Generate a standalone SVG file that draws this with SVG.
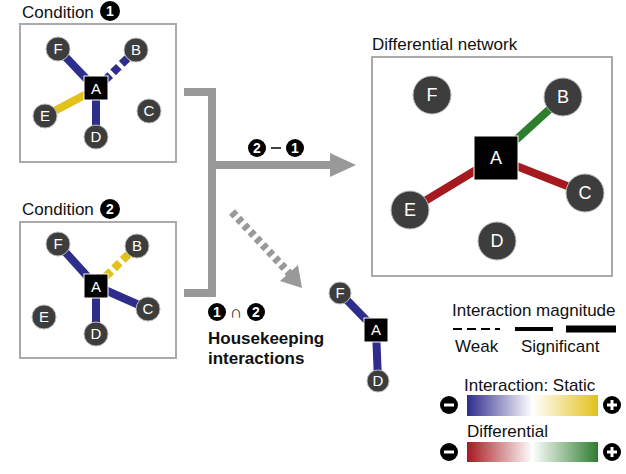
<svg xmlns="http://www.w3.org/2000/svg" width="626" height="474" viewBox="0 0 626 474">
<style>
text{font-family:"Liberation Sans",Arial,sans-serif;fill:#111}
.t{font-size:17px}
.n{fill:#3d3d3d;stroke:#bbb;stroke-width:1}
.nl{fill:#fff;font-size:15px;text-anchor:middle}
.bl{font-size:18px;text-anchor:middle}
.box{fill:#fff;stroke:#aaa;stroke-width:2}
.e{stroke-width:8;fill:none}
.blue{stroke:#2e2d8c}.yel{stroke:#e2c11b}.red{stroke:#a51a1f}.grn{stroke:#2f7d2f}
.num{fill:#000}.numt{fill:#fff;font-size:14px;font-weight:bold;text-anchor:middle}
</style>
<defs>
<linearGradient id="gs"><stop offset="0" stop-color="#2e2d8c"/><stop offset="0.5" stop-color="#fff"/><stop offset="1" stop-color="#e2c11b"/></linearGradient>
<linearGradient id="gd"><stop offset="0" stop-color="#a51a1f"/><stop offset="0.5" stop-color="#fff"/><stop offset="1" stop-color="#2f7d2f"/></linearGradient>
</defs>
<g id="cond1">
<text class="t" x="22" y="18">Condition</text>
<circle class="num" cx="110" cy="11" r="10"/><text class="numt" x="110" y="16">1</text>
<rect class="box" x="20" y="24" width="156" height="138"/>
<line class="e blue" x1="58" y1="49" x2="96" y2="89"/>
<line class="e blue" x1="136" y1="50" x2="96" y2="89" stroke-dasharray="8,4"/>
<line class="e yel" x1="45" y1="116" x2="96" y2="89"/>
<line class="e blue" x1="96" y1="89" x2="96" y2="137"/>
<circle class="n" cx="58" cy="49" r="12"/><text class="nl" x="58" y="54">F</text>
<circle class="n" cx="136" cy="50" r="12"/><text class="nl" x="136" y="55">B</text>
<circle class="n" cx="45" cy="116" r="12"/><text class="nl" x="45" y="121">E</text>
<circle class="n" cx="149" cy="111" r="12"/><text class="nl" x="149" y="116">C</text>
<circle class="n" cx="96" cy="137" r="12"/><text class="nl" x="96" y="142">D</text>
<rect x="84" y="76" width="24" height="24" fill="#000" stroke="#fff"/><text class="nl" x="96" y="94">A</text>
</g>
<g id="cond2">
<text class="t" x="22" y="215">Condition</text>
<circle class="num" cx="110" cy="209" r="10"/><text class="numt" x="110" y="214">2</text>
<rect class="box" x="20" y="222" width="156" height="136"/>
<line class="e blue" x1="58" y1="244" x2="96" y2="286"/>
<line class="e yel" x1="137" y1="246" x2="96" y2="286" stroke-dasharray="8,4"/>
<line class="e blue" x1="96" y1="286" x2="148" y2="309"/>
<line class="e blue" x1="96" y1="286" x2="96" y2="334"/>
<circle class="n" cx="58" cy="244" r="12"/><text class="nl" x="58" y="249">F</text>
<circle class="n" cx="137" cy="246" r="12"/><text class="nl" x="137" y="251">B</text>
<circle class="n" cx="44" cy="317" r="12"/><text class="nl" x="44" y="322">E</text>
<circle class="n" cx="148" cy="309" r="12"/><text class="nl" x="148" y="314">C</text>
<circle class="n" cx="96" cy="334" r="12"/><text class="nl" x="96" y="339">D</text>
<rect x="84" y="274" width="24" height="24" fill="#000" stroke="#fff"/><text class="nl" x="96" y="292">A</text>
</g>
<g id="connectors">
<polyline points="184,92 212,92 212,293 184,293" fill="none" stroke="#999" stroke-width="8"/>
<line x1="212" y1="165" x2="332" y2="165" stroke="#999" stroke-width="8"/>
<polygon points="330,153 356,165 330,177" fill="#999"/>
<line x1="232" y1="212" x2="290" y2="274" stroke="#999" stroke-width="8" stroke-dasharray="5,4"/>
<polygon points="280,281 302,288 298,265" fill="#999"/>
<circle class="num" cx="257" cy="148" r="9"/><text class="numt" x="257" y="153">2</text>
<line x1="271" y1="148" x2="281" y2="148" stroke="#000" stroke-width="1.5"/>
<circle class="num" cx="295" cy="148" r="9"/><text class="numt" x="295" y="153">1</text>
</g>
<g id="diff">
<text class="t" x="372" y="50">Differential network</text>
<rect class="box" x="372" y="57" width="240" height="219"/>
<line class="e grn" x1="496" y1="158" x2="563" y2="97"/>
<line class="e red" x1="496" y1="158" x2="410" y2="210"/>
<line class="e red" x1="496" y1="158" x2="585" y2="193"/>
<circle class="n" cx="432" cy="95" r="19"/><text class="bl" x="432" y="101" style="fill:#fff">F</text>
<circle class="n" cx="563" cy="97" r="19"/><text class="bl" x="563" y="103" style="fill:#fff">B</text>
<circle class="n" cx="410" cy="210" r="19"/><text class="bl" x="410" y="216" style="fill:#fff">E</text>
<circle class="n" cx="585" cy="193" r="19"/><text class="bl" x="585" y="199" style="fill:#fff">C</text>
<circle class="n" cx="497" cy="241" r="19"/><text class="bl" x="497" y="247" style="fill:#fff">D</text>
<rect x="474" y="136" width="44" height="44" fill="#000" stroke="#fff"/><text class="bl" x="496" y="164" style="fill:#fff">A</text>
</g>
<g id="housekeeping">
<circle class="num" cx="217" cy="312" r="9"/><text class="numt" x="217" y="317">1</text>
<text x="236" y="318" style="font-size:17px;text-anchor:middle">∩</text>
<circle class="num" cx="256" cy="312" r="9"/><text class="numt" x="256" y="317">2</text>
<text x="208" y="344" style="font-size:17px;font-weight:bold">Housekeeping</text>
<text x="208" y="364" style="font-size:17px;font-weight:bold">interactions</text>
<line class="e blue" x1="340" y1="293" x2="376" y2="330"/>
<line class="e blue" x1="376" y1="330" x2="378" y2="381"/>
<circle class="n" cx="340" cy="293" r="11"/><text class="nl" x="340" y="298">F</text>
<circle class="n" cx="378" cy="381" r="11"/><text class="nl" x="378" y="386">D</text>
<rect x="364" y="318" width="24" height="24" fill="#000" stroke="#fff"/><text class="nl" x="376" y="335">A</text>
</g>
<g id="legend">
<text class="t" x="452" y="316">Interaction magnitude</text>
<line x1="453" y1="329" x2="500" y2="329" stroke="#000" stroke-width="2" stroke-dasharray="9,5"/>
<line x1="515" y1="329" x2="553" y2="329" stroke="#000" stroke-width="4"/>
<line x1="566" y1="329" x2="616" y2="329" stroke="#000" stroke-width="7"/>
<text class="t" x="455" y="352">Weak</text>
<text class="t" x="521" y="352">Significant</text>
<text class="t" x="464" y="391">Interaction: Static</text>
<rect x="467" y="395" width="131" height="21" fill="url(#gs)"/>
<circle cx="449" cy="405" r="9" fill="#000"/><rect x="444" y="403.5" width="10" height="3" fill="#fff"/>
<circle cx="612" cy="405" r="9" fill="#000"/><rect x="607" y="403.5" width="10" height="3" fill="#fff"/><rect x="610.5" y="400" width="3" height="10" fill="#fff"/>
<text class="t" x="467" y="437">Differential</text>
<rect x="467" y="442" width="131" height="20" fill="url(#gd)"/>
<circle cx="449" cy="452" r="9" fill="#000"/><rect x="444" y="450.5" width="10" height="3" fill="#fff"/>
<circle cx="612" cy="452" r="9" fill="#000"/><rect x="607" y="450.5" width="10" height="3" fill="#fff"/><rect x="610.5" y="447" width="3" height="10" fill="#fff"/>
</g>
</svg>
